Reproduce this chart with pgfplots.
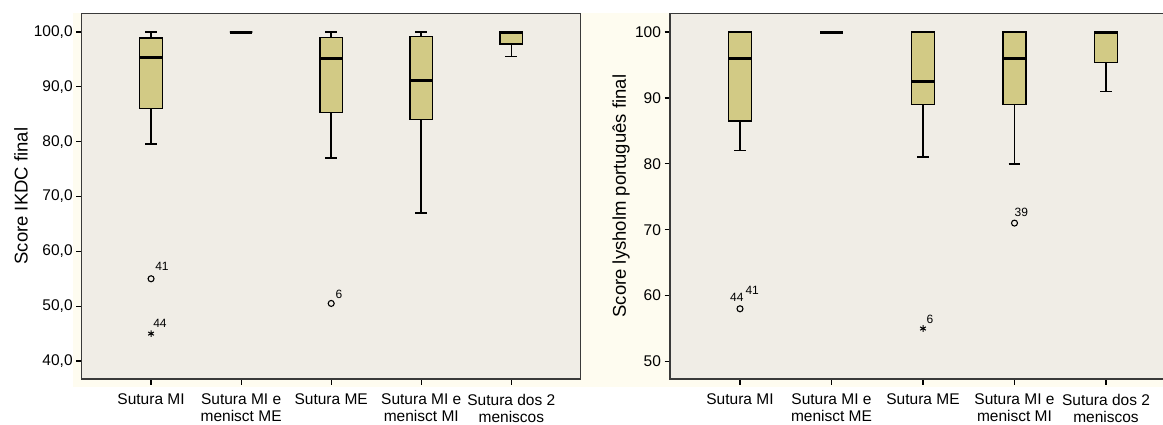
\documentclass[border=0pt]{standalone}
\usepackage{pgfplots}
\pgfplotsset{compat=1.18}
\usepgfplotslibrary{statistics}
\usepackage{fontspec}
\setmainfont{Liberation Sans}
\definecolor{plotbg}{HTML}{F0EDE6}
\definecolor{cream}{HTML}{FEFCF0}
\definecolor{boxfill}{HTML}{D2CA85}
\definecolor{framec}{HTML}{3A3A3A}
\tikzset{olab/.style={font=\fontsize{12}{14}\selectfont, anchor=base west, inner sep=0pt}}
\begin{document}
\begin{tikzpicture}[x=1pt,y=1pt]
\fill[cream] (73,37) rectangle (1163,410.7);
\pgfplotsset{
 mystyle/.style={
  scale only axis, height=365.7pt,
  axis background/.style={fill=plotbg},
  axis line style={draw=framec, line width=1.4pt},
  tick pos=left, tick align=outside, major tick length=5.5pt,
  every tick/.style={black, line width=1.2pt},
  xtick={0,...,4},
  xticklabels={Sutura MI, {Sutura MI e\\menisct ME}, Sutura ME, {Sutura MI e\\menisct MI}, {Sutura dos 2\\meniscos}},
  xticklabel style={align=center, font=\fontsize{15.5}{17}\selectfont, yshift=-6pt},
  yticklabel style={font=\fontsize{15.5}{18}\selectfont},
  ylabel style={font=\fontsize{18.5}{22}\selectfont, anchor=center},
  /pgf/number format/assume math mode=true,
  boxplot/draw direction=y,
  boxplot/box extend=0.25,
  boxplot/whisker extend=0.13,
  boxplot/every box/.style={draw=black, fill=boxfill, line width=1.3pt},
  boxplot/every whisker/.style={black, line width=1.6pt},
  boxplot/every median/.style={black, line width=3pt},
 },
}
\begin{axis}[mystyle, at={(81.7pt,45pt)}, anchor=south west, width=499pt,
  xmin=-0.77, xmax=4.77, ymin=36.72, ymax=103.41, ytick={40,50,...,100},
  yticklabel style={/pgf/number format/fixed, /pgf/number format/fixed zerofill, /pgf/number format/precision=1, /pgf/number format/use comma},
  ylabel={Score IKDC final},
  ylabel style={at={(axis description cs:-0.1216,0.5)}}]
\addplot[boxplot prepared={lower whisker=79.6, lower quartile=86.1, median=95.4, upper quartile=98.9, upper whisker=100, draw position=0}] coordinates {};
\addplot[boxplot prepared={lower whisker=100, lower quartile=100, median=100, upper quartile=100, upper whisker=100, draw position=1}] coordinates {};
\addplot[boxplot prepared={lower whisker=77, lower quartile=85.3, median=95.1, upper quartile=99, upper whisker=100, draw position=2}] coordinates {};
\addplot[boxplot prepared={lower whisker=67, lower quartile=84, median=91.1, upper quartile=99.2, upper whisker=100, draw position=3}] coordinates {};
\addplot[boxplot prepared={lower whisker=95.5, lower quartile=97.8, median=100, upper quartile=100, upper whisker=100, draw position=4}] coordinates {};
\addplot[only marks, mark=o, mark size=3pt, line width=1.1pt, black] coordinates {(0,55) (2,50.5)};
\addplot[only marks, mark=asterisk, mark size=3.3pt, line width=1pt, black] coordinates {(0,45)};
\node[olab, xshift=4pt, yshift=8pt] at (axis cs:0,55) {41};
\node[olab, xshift=2pt, yshift=6pt] at (axis cs:0,45) {44};
\node[olab, xshift=4.3pt, yshift=4.7pt] at (axis cs:2,50.5) {6};
\end{axis}
\begin{axis}[mystyle, at={(670pt,45pt)}, anchor=south west, width=506pt,
  xmin=-0.765, xmax=4.765, ymin=47.34, ymax=102.84, ytick={50,60,...,100},
  ylabel={Score lysholm português final},
  ylabel style={at={(axis description cs:-0.0968,0.5)}}]
\addplot[boxplot prepared={lower whisker=82, lower quartile=86.5, median=96, upper quartile=100, upper whisker=100, draw position=0}] coordinates {};
\addplot[boxplot prepared={lower whisker=100, lower quartile=100, median=100, upper quartile=100, upper whisker=100, draw position=1}] coordinates {};
\addplot[boxplot prepared={lower whisker=81, lower quartile=89, median=92.5, upper quartile=100, upper whisker=100, draw position=2}] coordinates {};
\addplot[boxplot prepared={lower whisker=80, lower quartile=89, median=96, upper quartile=100, upper whisker=100, draw position=3}] coordinates {};
\addplot[boxplot prepared={lower whisker=91, lower quartile=95.4, median=100, upper quartile=100, upper whisker=100, draw position=4}] coordinates {};
\addplot[only marks, mark=o, mark size=3pt, line width=1.1pt, black] coordinates {(0,58) (3,71)};
\addplot[only marks, mark=asterisk, mark size=3.3pt, line width=1pt, black] coordinates {(2,55)};
\node[olab, xshift=-10pt, yshift=7.3pt] at (axis cs:0,58) {44};
\node[olab, xshift=5.3pt, yshift=14pt] at (axis cs:0,58) {41};
\node[olab, xshift=3.4pt, yshift=5.4pt] at (axis cs:2,55) {6};
\node[olab, xshift=0pt, yshift=7pt] at (axis cs:3,71) {39};
\end{axis}
\pgfresetboundingbox
\path[use as bounding box] (0,0) rectangle (1163,424);
\end{tikzpicture}
\end{document}
